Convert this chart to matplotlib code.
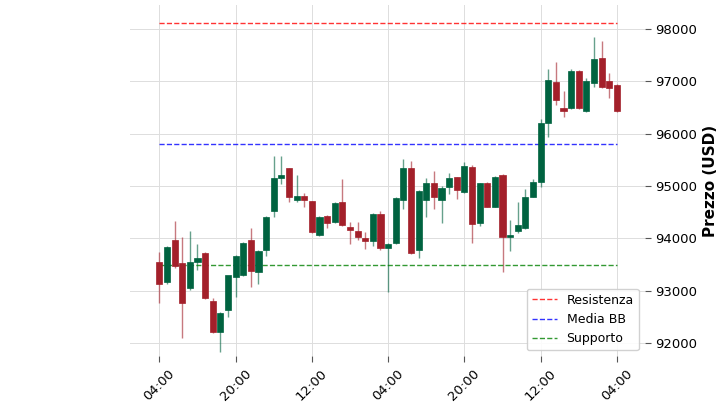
import numpy as np
import matplotlib.pyplot as plt
from matplotlib.patches import Rectangle

# OHLC candles
aperture = [93540, 93165, 93970, 93522, 93045, 93540, 93713, 92802, 92215, 92630,
            93267, 93300, 93974, 93350, 93777, 94522, 95147, 95338, 94738, 94814,
            94707, 94063, 94426, 94306, 94694, 94222, 94134, 94012, 93949, 94465,
            93809, 93917, 94732, 95338, 93777, 94732, 95051, 94726, 94975, 95166,
            94890, 95369, 94287, 95051, 94604, 95210, 94019, 94141, 94191, 94796,
            95082, 96209, 96993, 96490, 96485, 97203, 96433, 96962, 97440, 97006,
            96930]
chiusure = [93120, 93830, 93470, 92758, 93542, 93630, 92865, 92215, 92567, 93300,
            93660, 93905, 93381, 93757, 94402, 95147, 95215, 94795, 94814, 94727,
            94126, 94413, 94300, 94669, 94248, 94153, 94025, 93949, 94465, 93809,
            93886, 94764, 95338, 93725, 94905, 95063, 94784, 94967, 95147, 94923,
            95382, 94274, 95051, 94604, 95178, 94019, 94063, 94255, 94796, 95082,
            96209, 97025, 96643, 96433, 97203, 96496, 97006, 97427, 96886, 96867,
            96439]
massimi = [93744, 93850, 94337, 94030, 94140, 93886, 93730, 92865, 92600, 92650,
           93680, 93935, 94203, 93780, 94420, 95579, 95579, 95350, 95210, 94860,
           94710, 94430, 94440, 94690, 95128, 94312, 94318, 94121, 94480, 94522,
           93905, 94780, 95516, 95483, 94920, 95158, 95286, 95000, 95254, 95170,
           95464, 95395, 95060, 95082, 95190, 95230, 94350, 94688, 94936, 95133,
           96274, 97230, 97364, 96810, 97230, 97220, 97058, 97853, 97776, 97153,
           96950]
minimi = [92770, 93130, 93440, 92100, 93010, 93395, 92850, 92200, 91833, 92500,
          92884, 93280, 93075, 93127, 93662, 94402, 95032, 94700, 94700, 94604,
          94110, 94044, 94190, 94290, 94230, 93891, 93968, 93796, 93853, 93777,
          92980, 93900, 94560, 93700, 93618, 94402, 94560, 94299, 94847, 94745,
          94870, 93905, 94235, 94590, 94590, 93362, 93757, 94107, 94170, 94780,
          94986, 95942, 96548, 96313, 96470, 96480, 96420, 96886, 96870, 96687,
          96420]

etichette_x = ["04:00", "20:00", "12:00", "04:00", "20:00", "12:00", "04:00"]
resistenza = 98115
media_bb = 95802
supporto = 93490

col_su = "#006340"
col_giu = "#a3202a"

fig = plt.figure(figsize=(7.2, 4.05), dpi=100)
ax = fig.add_axes([0.18, 0.12, 0.716, 0.868])

for i, (o, c, h, l) in enumerate(zip(aperture, chiusure, massimi, minimi)):
    col = col_su if c >= o else col_giu
    ax.vlines(i, l, h, color=col, alpha=0.6, linewidth=1, zorder=2)
    ax.add_patch(Rectangle((i - 0.4, min(o, c)), 0.8, max(abs(c - o), 8),
                           facecolor=col, edgecolor=col, linewidth=0.5, zorder=3))

n = len(aperture)
ax.hlines(resistenza, 0, n - 1, colors="red", linestyles="--", linewidth=1, alpha=0.8, label="Resistenza")
ax.hlines(media_bb, 0, n - 1, colors="blue", linestyles="--", linewidth=1, alpha=0.8, label="Media BB")
ax.hlines(supporto, 0, n - 1, colors="green", linestyles="--", linewidth=1, alpha=0.8, label="Supporto")

ax.set_xlim(-3.9, 63.7)
ax.set_ylim(91744, 98460)
ax.set_xticks(np.arange(0, n, 10))
ax.set_xticklabels(etichette_x, rotation=45)
ax.set_yticks(np.arange(92000, 98001, 1000))
ax.yaxis.tick_right()
ax.yaxis.set_label_position("right")
ax.set_ylabel("Prezzo (USD)", fontsize=11, fontweight="bold")
ax.tick_params(labelsize=9.5, length=4, color="#555555")
ax.grid(True, linestyle="-", color="#dddddd", linewidth=0.7)
for s in ax.spines.values():
    s.set_visible(False)
ax.legend(loc="lower right", fontsize=9, framealpha=0.9)

fig.savefig("out.png")
